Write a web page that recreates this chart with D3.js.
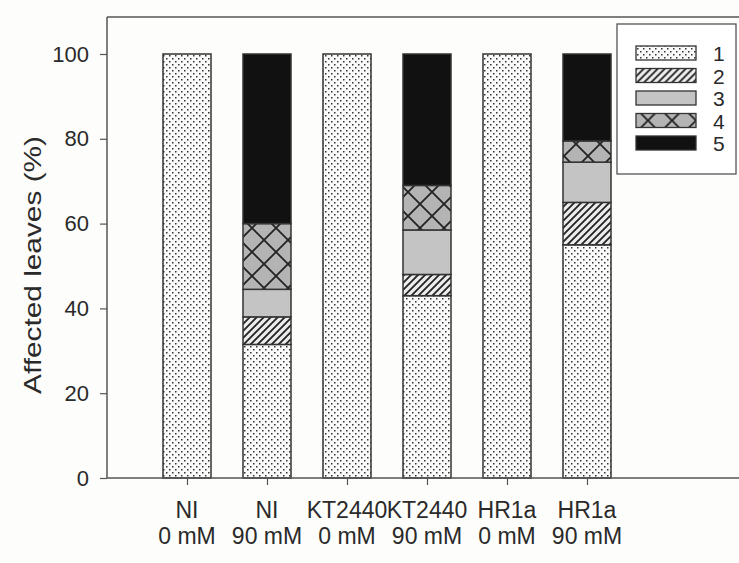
<!DOCTYPE html>
<html>
<head>
<meta charset="utf-8">
<script src="https://cdn.jsdelivr.net/npm/d3@7"></script>
<style>
  body { margin: 0; background: #fdfdfb; }
  text { font-family: "Liberation Sans", Arial, sans-serif; fill: #2a2a2a; }
</style>
</head>
<body>
<svg width="739" height="563"></svg>
<script>
// categories (two label lines)
var catLine1 = ['NI', 'NI', 'KT2440', 'KT2440', 'HR1a', 'HR1a'];
var catLine2 = ['0 mM', '90 mM', '0 mM', '90 mM', '0 mM', '90 mM'];

// share of leaves per damage class (%)
var class1 = [100, 31.5, 100, 43, 100, 55];
var class2 = [0, 6.5, 0, 5, 0, 10];
var class3 = [0, 6.5, 0, 10.5, 0, 9.5];
var class4 = [0, 15.5, 0, 10.5, 0, 5];
var class5 = [0, 40, 0, 31, 0, 20.5];

var classNames = ['1', '2', '3', '4', '5'];
var yTicks = [0, 20, 40, 60, 80, 100];

var svg = d3.select('svg');

// patterns
var defs = svg.append('defs');

var pDots = defs.append('pattern').attr('id', 'p1')
    .attr('patternUnits', 'userSpaceOnUse').attr('width', 6).attr('height', 6);
pDots.append('rect').attr('width', 6).attr('height', 6).attr('fill', '#fafafa');
pDots.append('rect').attr('x', 1).attr('y', 1).attr('width', 1.5).attr('height', 1.5).attr('fill', '#333');
pDots.append('rect').attr('x', 4).attr('y', 4).attr('width', 1.5).attr('height', 1.5).attr('fill', '#333');

var pHatch = defs.append('pattern').attr('id', 'p2')
    .attr('patternUnits', 'userSpaceOnUse').attr('width', 7).attr('height', 7);
pHatch.append('rect').attr('width', 7).attr('height', 7).attr('fill', '#ececec');
pHatch.append('path').attr('d', 'M-1,8 L8,-1 M-2,2 L2,-2 M5,9 L9,5')
    .attr('stroke', '#222').attr('stroke-width', 1.8);

var pGrey = defs.append('pattern').attr('id', 'p3')
    .attr('patternUnits', 'userSpaceOnUse').attr('width', 4).attr('height', 4);
pGrey.append('rect').attr('width', 4).attr('height', 4).attr('fill', '#c4c4c4');

var pCross = defs.append('pattern').attr('id', 'p4')
    .attr('patternUnits', 'userSpaceOnUse').attr('width', 24).attr('height', 24);
pCross.append('rect').attr('width', 24).attr('height', 24).attr('fill', '#b4b4b4');
pCross.append('path').attr('d', 'M0,0 L24,24 M24,0 L0,24')
    .attr('stroke', '#222').attr('stroke-width', 1.8);

var fills = ['url(#p1)', 'url(#p2)', 'url(#p3)', 'url(#p4)', '#111'];

// scales
var scaleX = d3.scaleLinear().domain([0, 7.9]).range([107, 739]);
var scaleY = d3.scaleLinear().domain([0, 100]).range([478, 54]);
var barW = 48;

var table = catLine1.map(function(c, i) {
    return { i: i, c1: class1[i], c2: class2[i], c3: class3[i], c4: class4[i], c5: class5[i] };
});
var stack = d3.stack().keys(['c1', 'c2', 'c3', 'c4', 'c5'])(table);

var layers = svg.append('g').selectAll('g')
    .data(stack)
    .enter()
    .append('g')
    .attr('fill', function(d, k) { return fills[k]; });

layers.selectAll('rect')
    .data(function(d) { return d.filter(function(p) { return p[1] - p[0] > 0; }); })
    .enter()
    .append('rect')
    .attr('x', function(d) { return scaleX(d.data.i + 1) - barW / 2; })
    .attr('y', function(d) { return scaleY(d[1]); })
    .attr('width', barW)
    .attr('height', function(d) { return scaleY(d[0]) - scaleY(d[1]); })
    .attr('stroke', '#333')
    .attr('stroke-width', 1.5);

// frame
svg.append('line').attr('x1', 107).attr('x2', 739).attr('y1', 17).attr('y2', 17)
    .attr('stroke', '#555').attr('stroke-width', 1.5);

// axes
var axY = svg.append('g')
    .attr('transform', 'translate(107,0)')
    .call(d3.axisLeft(scaleY).tickValues(yTicks).tickSize(7).tickPadding(11));
axY.select('.domain').attr('d', 'M0,478V17').attr('stroke', '#555').attr('stroke-width', 1.5);
axY.selectAll('.tick line').attr('stroke', '#555').attr('stroke-width', 1.2);
axY.selectAll('.tick text').attr('font-size', 22).attr('font-family', '"Liberation Sans", Arial, sans-serif').attr('fill', '#2a2a2a');

var axX = svg.append('g')
    .attr('transform', 'translate(0,478)')
    .call(d3.axisBottom(scaleX).tickValues([1, 2, 3, 4, 5, 6]).tickSize(7).tickFormat(''));
axX.select('.domain').attr('d', 'M107,0H739').attr('stroke', '#555').attr('stroke-width', 1.5);
axX.selectAll('.tick line').attr('stroke', '#555').attr('stroke-width', 1.2);

var xl = svg.append('g').selectAll('text')
    .data(catLine1)
    .enter()
    .append('text')
    .attr('text-anchor', 'middle')
    .attr('font-size', 23);
xl.append('tspan').attr('x', function(d, i) { return scaleX(i + 1); }).attr('y', 518)
    .text(function(d) { return d; });
xl.append('tspan').attr('x', function(d, i) { return scaleX(i + 1); }).attr('y', 544)
    .text(function(d, i) { return catLine2[i]; });

svg.append('text')
    .attr('transform', 'translate(41,265) rotate(-90)')
    .attr('text-anchor', 'middle')
    .attr('font-size', 24)
    .attr('textLength', 258)
    .attr('lengthAdjust', 'spacingAndGlyphs')
    .text('Affected leaves (%)');

// legend
var leg = svg.append('g');
leg.append('rect').attr('x', 617).attr('y', 24).attr('width', 119).attr('height', 150)
    .attr('fill', '#fff').attr('stroke', '#555').attr('stroke-width', 1.3);

var li = leg.selectAll('g.li')
    .data(classNames)
    .enter()
    .append('g')
    .attr('transform', function(d, k) { return 'translate(0,' + (53 + k * 22.5) + ')'; });
li.append('rect')
    .attr('x', 636).attr('y', -7).attr('width', 60).attr('height', 14)
    .attr('fill', function(d, k) { return fills[k]; })
    .attr('stroke', '#333').attr('stroke-width', 1.3);
li.append('text')
    .attr('x', 713).attr('y', 8)
    .attr('font-size', 21)
    .text(function(d) { return d; });
</script>
</body>
</html>
